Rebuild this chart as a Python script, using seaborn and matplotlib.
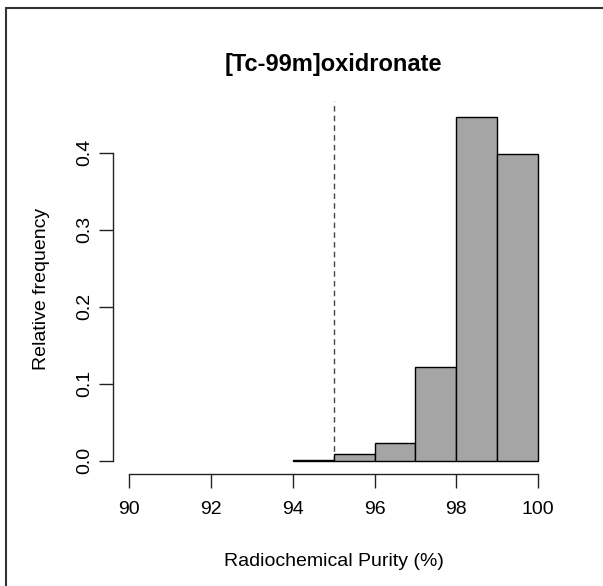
import matplotlib
matplotlib.use("Agg")
import matplotlib.pyplot as plt
from matplotlib.patches import Rectangle
import seaborn as sns

# histogram bins (radiochemical purity, %) and relative frequency per bin
bin_edges = [94, 95, 96, 97, 98, 99, 100]
rel_freq = [0.0015, 0.009, 0.0225, 0.122, 0.447, 0.399]
bin_mids = [94.5, 95.5, 96.5, 97.5, 98.5, 99.5]
threshold = 95
x_ticks = [90, 92, 94, 96, 98, 100]
y_ticks = [0.0, 0.1, 0.2, 0.3, 0.4]

sns.set_style("white", {"text.color": "black", "axes.labelcolor": "black",
                        "xtick.color": "black", "ytick.color": "black"})
plt.rcParams['font.family'] = ['Liberation Sans', 'DejaVu Sans']

fig = plt.figure(figsize=(6.03, 5.86), dpi=100)
ax = fig.add_axes([0.1874, 0.1903, 0.7320, 0.6344])

sns.histplot(x=bin_mids, weights=rel_freq, bins=bin_edges, stat="count",
             color="#a5a5a5", edgecolor="black", linewidth=1.0, alpha=1,
             ax=ax, zorder=2)

ax.set_xlim(89.6, 100.4)
ax.set_ylim(-0.0179, 0.465)
ax.axvline(threshold, ymin=0.0179 / 0.4829, ymax=1.005, color="#444444",
           linestyle=(0, (4, 3)), linewidth=1.0, zorder=1, clip_on=False)

# R-like axes: only left and bottom lines spanning the tick range
for s in ["top", "right"]:
    ax.spines[s].set_visible(False)
ax.spines["bottom"].set_bounds(90, 100)
ax.spines["left"].set_bounds(0, 0.4)
for s in ["bottom", "left"]:
    ax.spines[s].set_color("#222222")
    ax.spines[s].set_linewidth(1.0)

ax.set_xticks(x_ticks)
ax.set_xticklabels([str(t) for t in x_ticks])
ax.set_yticks(y_ticks)
ax.set_yticklabels([f"{t:.1f}" for t in y_ticks], rotation=90, va="center")
ax.tick_params(axis="both", direction="out", length=10, width=1.0,
               color="#222222", labelcolor="black", labelsize=14,
               left=True, bottom=True)
ax.tick_params(axis="x", pad=9)
ax.tick_params(axis="y", pad=4)

ax.set_title("[Tc-99m]oxidronate", fontsize=17, fontweight="bold", pad=23,
             color="black")
ax.set_xlabel("Radiochemical Purity (%)", fontsize=14, labelpad=25)
ax.set_ylabel("Relative frequency", fontsize=14, labelpad=19)

# frame of the original screenshot (top and left edges visible)
fig.add_artist(Rectangle((6 / 603, -0.2), 1.5, 1.2 - 8 / 586,
                         transform=fig.transFigure, fill=False,
                         edgecolor="#333333", linewidth=1.5, clip_on=False))

fig.savefig("out.png", dpi=100)
